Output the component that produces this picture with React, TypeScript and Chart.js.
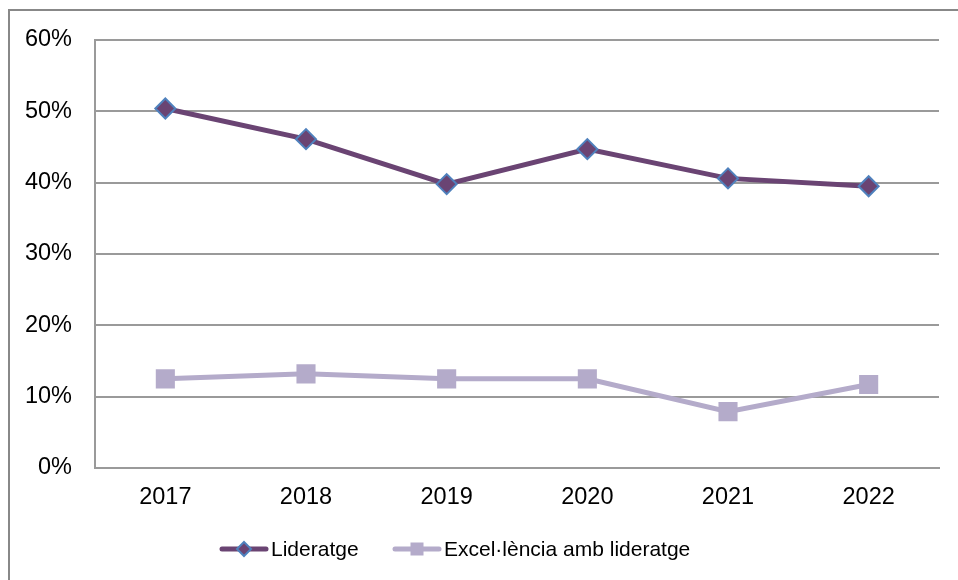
import React, { useEffect, useRef } from "react";
import { Chart, registerables } from "chart.js";

Chart.register(...registerables);

const categories = ["2017", "2018", "2019", "2020", "2021", "2022"];
const lideratge = [50.4, 46.1, 39.8, 44.7, 40.6, 39.5];
const excelencia = [12.5, 13.2, 12.5, 12.5, 7.9, 11.7];
const seriesNames = ["Lideratge", "Excel·lència amb lideratge"];
const yTicks = [0, 10, 20, 30, 40, 50, 60];

const DARK = "#6a4473";
const LIGHT = "#b4abca";
const BLUE = "#4f81bd";
const GRID = "#9a9a9a";
const FONT = "'Liberation Sans', Arial, sans-serif";

const frameAndLegend = {
  id: "frameAndLegend",
  afterDraw(chart: any) {
    const ctx = chart.ctx;
    ctx.save();
    // outer frame
    ctx.strokeStyle = "#888888";
    ctx.lineWidth = 2;
    ctx.beginPath();
    ctx.moveTo(9, 600);
    ctx.lineTo(9, 10);
    ctx.lineTo(960, 10);
    ctx.stroke();

    // legend
    const y = 549;
    const items = [
      { x: 220, color: DARK, label: seriesNames[0], kind: "diamond" },
      { x: 393, color: LIGHT, label: seriesNames[1], kind: "square" },
    ];
    ctx.font = `21px ${FONT}`;
    ctx.textBaseline = "middle";
    ctx.textAlign = "left";
    for (const it of items) {
      ctx.strokeStyle = it.color;
      ctx.lineWidth = 5;
      ctx.lineCap = "round";
      ctx.beginPath();
      ctx.moveTo(it.x + 2, y);
      ctx.lineTo(it.x + 46, y);
      ctx.stroke();
      const cx = it.x + 24;
      if (it.kind === "diamond") {
        ctx.beginPath();
        ctx.moveTo(cx, y - 7);
        ctx.lineTo(cx + 7, y);
        ctx.lineTo(cx, y + 7);
        ctx.lineTo(cx - 7, y);
        ctx.closePath();
        ctx.fillStyle = DARK;
        ctx.fill();
        ctx.lineWidth = 2;
        ctx.strokeStyle = BLUE;
        ctx.stroke();
      } else {
        ctx.fillStyle = LIGHT;
        ctx.fillRect(cx - 6.5, y - 6.5, 13, 13);
      }
      ctx.fillStyle = "#000000";
      ctx.fillText(it.label, it.x + 51, y + 1);
    }
    ctx.restore();
  },
};

export default function App() {
  const ref = useRef<HTMLCanvasElement | null>(null);
  useEffect(() => {
    if (!ref.current) return;
    const chart = new Chart(ref.current, {
      type: "line",
      data: {
        labels: categories,
        datasets: [
          {
            label: seriesNames[0],
            data: lideratge,
            borderColor: DARK,
            backgroundColor: DARK,
            borderWidth: 5,
            pointStyle: "rectRot",
            pointRadius: 10,
            pointBorderWidth: 2,
            pointBorderColor: BLUE,
            pointBackgroundColor: DARK,
            tension: 0,
            order: 1,
          },
          {
            label: seriesNames[1],
            data: excelencia,
            borderColor: LIGHT,
            backgroundColor: LIGHT,
            borderWidth: 5,
            pointStyle: "rect",
            pointRadius: 13.5,
            pointBorderWidth: 0,
            pointBackgroundColor: LIGHT,
            tension: 0,
            order: 2,
          },
        ],
      },
      options: {
        animation: false,
        responsive: false,
        maintainAspectRatio: false,
        layout: { padding: { left: 0, right: 19, top: 40, bottom: 0 } },
        plugins: {
          legend: { display: false },
          tooltip: { enabled: false },
        },
        scales: {
          x: {
            offset: true,
            grid: { display: false, drawTicks: false },
            border: { display: true, color: GRID, width: 2 },
            ticks: {
              color: "#000000",
              font: { family: FONT, size: 23.5 },
              padding: 15,
              maxRotation: 0,
            },
            afterFit(scale: any) {
              scale.height = 112;
            },
          },
          y: {
            min: 0,
            max: 60,
            afterBuildTicks(scale: any) {
              scale.ticks = yTicks.map((v) => ({ value: v }));
            },
            grid: { color: GRID, lineWidth: 2, drawTicks: false },
            border: { display: true, color: GRID, width: 2 },
            ticks: {
              color: "#000000",
              font: { family: FONT, size: 23.5 },
              padding: 23,
              callback: (v: any) => `${v}%`,
            },
            afterFit(scale: any) {
              scale.width = 95;
            },
          },
        },
      },
      plugins: [frameAndLegend],
    });
    return () => chart.destroy();
  }, []);
  return (
    <div style={{ position: "absolute", left: 0, top: 0, width: 958, height: 580, background: "#fff" }}>
      <canvas ref={ref} width={958} height={580} style={{ display: "block" }} />
    </div>
  );
}
